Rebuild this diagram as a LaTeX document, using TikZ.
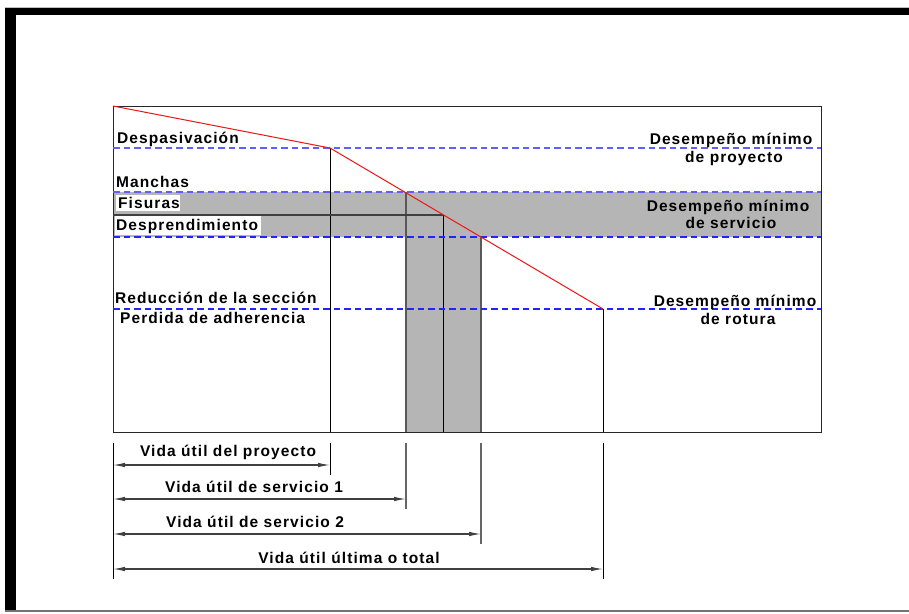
\documentclass[tikz,border=0pt]{standalone}
\usepackage{fontspec}
\setmainfont{Liberation Sans}[LetterSpace=7]
\usetikzlibrary{arrows.meta}
\definecolor{bandgray}{RGB}{181,181,181}
\definecolor{paleblue}{RGB}{95,95,250}
\definecolor{deepblue}{RGB}{35,35,255}
\definecolor{curvered}{RGB}{240,20,20}
\begin{document}
\begin{tikzpicture}[x=1pt,y=-1pt,
  lbl/.style={font=\bfseries\fontsize{15.5}{18}\selectfont, inner sep=0pt},
  level/.style={line width=1.1pt, dash pattern=on 6.5pt off 4pt},
  edge/.style={line width=0.9pt, draw=black},
  greyedge/.style={line width=1.4pt, draw=black!65},
  ext/.style={line width=0.9pt, draw=black},
  greyext/.style={line width=1.2pt, draw=black!60},
  dimline/.style={line width=1.1pt, draw=black!75,
    {Latex[length=12pt,width=4.5pt]}-{Latex[length=12pt,width=4.5pt]}}]
\useasboundingbox (0,0) rectangle (909,613);

% outer frame
\fill[black!25] (5,6.6) rectangle (909,8);
\fill[black] (5,8) rectangle (909,15.3);
\fill[black] (5,8) rectangle (15.7,611);
\fill[black!55] (5,610.3) rectangle (909,611.8);

% key points of the plot
\coordinate (tl) at (113,106);
\coordinate (br) at (821,432);
\coordinate (p0) at (113,106);
\coordinate (p1) at (330,148);
\coordinate (p2) at (406,192);
\coordinate (p3) at (443,215);
\coordinate (p4) at (481,237);
\coordinate (p5) at (603,309);

% shaded service band and service-life columns
\fill[bandgray] (113,192) rectangle (821,237);
\fill[bandgray] (406,237) rectangle (481,432);

% white backgrounds behind two labels
\fill[white] (116,195) rectangle (180,211);
\fill[white] (115,216) rectangle (261,235);

% plot frame
\draw[line width=0.9pt, draw=black!85] (tl) rectangle (br);

% vertical drops
\draw[edge] (p1) -- (330,432);
\draw[greyedge] (p2) -- (406,432);
\draw[edge] (p3) -- (443,432);
\draw[greyedge] (p4) -- (481,432);
\draw[edge] (p5) -- (603,432);
\draw[line width=1.1pt, draw=black!75] (113,215) -- (p3);

% performance levels
\draw[level, draw=paleblue] (113,148) -- (821,148);
\draw[level, draw=paleblue] (113,192) -- (821,192);
\draw[level, draw=deepblue] (113,237) -- (821,237);
\draw[level, draw=deepblue] (113,309) -- (821,309);

% performance curve
\draw[curvered, line width=1pt] (p0) -- (p1) -- (p5);

% left labels
\node[lbl, anchor=base west] (despas) at (117,143) {Despasivación};
\node[lbl, anchor=base west] (manchas) at (116,187) {Manchas};
\node[lbl, anchor=base west] (fisuras) at (118,208) {Fisuras};
\node[lbl, anchor=base west] (despr) at (116,230) {Desprendimiento};
\node[lbl, anchor=base west] (reduc) at (115,303) {Reducción de la sección};
\node[lbl, anchor=base west] (perd) at (120,323.5) {Perdida de adherencia};

% right labels
\node[lbl, anchor=base] (proy1) at (731,144) {Desempeño mínimo};
\node[lbl, anchor=base] (proy2) at (734,162) {de proyecto};
\node[lbl, anchor=base] (serv1) at (728,211.5) {Desempeño mínimo};
\node[lbl, anchor=base] (serv2) at (731,228.5) {de servicio};
\node[lbl, anchor=base] (rot1) at (735,306) {Desempeño mínimo};
\node[lbl, anchor=base] (rot2) at (738,324) {de rotura};

% extension lines below the plot
\coordinate (e0a) at (113,443); \coordinate (e0b) at (113,579);
\coordinate (e1a) at (330,443); \coordinate (e1b) at (330,475);
\coordinate (e2a) at (406,443); \coordinate (e2b) at (406,509);
\coordinate (e3a) at (481,443); \coordinate (e3b) at (481,544);
\coordinate (e4a) at (603,443); \coordinate (e4b) at (603,579);
\draw[ext] (e0a) -- (e0b);
\draw[ext] (e1a) -- (e1b);
\draw[greyext] (e2a) -- (e2b);
\draw[greyext] (e3a) -- (e3b);
\draw[ext] (e4a) -- (e4b);

% dimension lines
\coordinate (d1a) at (113,465); \coordinate (d1b) at (330,465);
\coordinate (d2a) at (113,499); \coordinate (d2b) at (406,499);
\coordinate (d3a) at (113,534); \coordinate (d3b) at (481,534);
\coordinate (d4a) at (113,569); \coordinate (d4b) at (603,569);
\draw[dimline] (d1a) -- (d1b);
\draw[dimline] (d2a) -- (d2b);
\draw[dimline] (d3a) -- (d3b);
\draw[dimline] (d4a) -- (d4b);

\node[lbl, anchor=base] (vproy) at (228,456) {Vida útil del proyecto};
\node[lbl, anchor=base] (vserv1) at (254,492) {Vida útil de servicio 1};
\node[lbl, anchor=base] (vserv2) at (255,527.5) {Vida útil de servicio 2};
\node[lbl, anchor=base] (vtotal) at (349,563.5) {Vida útil última o total};
\end{tikzpicture}
\end{document}
